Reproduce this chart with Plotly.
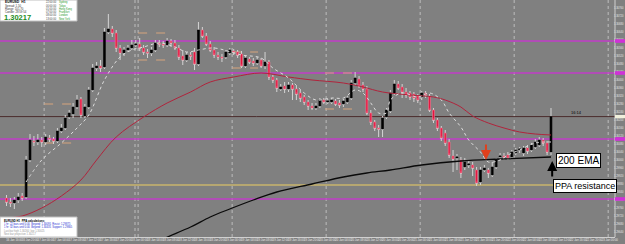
import plotly.graph_objects as go
import pandas as pd

# ---------------- data (EURUSD H1) ----------------
open_ = [1.29810,1.29790,1.29785,1.29800,1.29820,1.29815,1.30000,1.30095,1.30090,1.30100,
         1.30090,1.30110,1.30105,1.30095,1.30145,1.30160,1.30215,1.30230,1.30265,1.30305,
         1.30220,1.30265,1.30350,1.30460,1.30470,1.30465,1.30640,1.30655,1.30635,1.30560,
         1.30535,1.30550,1.30560,1.30575,1.30580,1.30560,1.30540,1.30535,1.30550,1.30585,
         1.30580,1.30575,1.30595,1.30585,1.30560,1.30520,1.30500,1.30525,1.30540,1.30480,
         1.30650,1.30620,1.30580,1.30550,1.30525,1.30515,1.30515,1.30535,1.30545,1.30540,
         1.30530,1.30470,1.30505,1.30495,1.30485,1.30500,1.30470,1.30490,1.30415,1.30400,
         1.30355,1.30370,1.30355,1.30375,1.30355,1.30335,1.30315,1.30290,1.30270,1.30260,
         1.30270,1.30300,1.30290,1.30290,1.30295,1.30285,1.30280,1.30290,1.30310,1.30385,
         1.30405,1.30375,1.30355,1.30235,1.30190,1.30160,1.30155,1.30215,1.30245,1.30335,
         1.30380,1.30365,1.30340,1.30335,1.30330,1.30320,1.30315,1.30335,1.30320,1.30250,
         1.30200,1.30160,1.30135,1.30090,1.30020,1.30010,1.30000,1.29965,1.29975,1.29975,
         1.29950,1.29890,1.29950,1.29950,1.29925,1.29965,1.30015,1.30020,1.30025,1.30015,
         1.30035,1.30050,1.30035,1.30060,1.30050,1.30065,1.30075,1.30100,1.30085,1.30040]
high = [1.29825,1.29810,1.29815,1.29835,1.29835,1.30020,1.30130,1.30120,1.30130,1.30115,
        1.30130,1.30125,1.30115,1.30160,1.30180,1.30225,1.30250,1.30285,1.30325,1.30315,
        1.30280,1.30365,1.30480,1.30490,1.30500,1.30660,1.30730,1.30670,1.30650,1.30575,
        1.30565,1.30575,1.30600,1.30600,1.30610,1.30575,1.30555,1.30565,1.30600,1.30600,
        1.30595,1.30610,1.30605,1.30600,1.30575,1.30550,1.30540,1.30540,1.30560,1.30690,
        1.30665,1.30635,1.30595,1.30565,1.30540,1.30530,1.30550,1.30560,1.30555,1.30550,
        1.30545,1.30520,1.30515,1.30510,1.30515,1.30510,1.30540,1.30500,1.30425,1.30410,
        1.30380,1.30390,1.30390,1.30385,1.30370,1.30350,1.30325,1.30300,1.30285,1.30285,
        1.30310,1.30310,1.30305,1.30310,1.30305,1.30300,1.30305,1.30320,1.30400,1.30440,
        1.30420,1.30390,1.30370,1.30250,1.30200,1.30175,1.30220,1.30260,1.30350,1.30400,
        1.30395,1.30380,1.30360,1.30345,1.30340,1.30330,1.30345,1.30345,1.30330,1.30260,
        1.30210,1.30170,1.30150,1.30105,1.30050,1.30030,1.30015,1.30010,1.29995,1.29990,
        1.29965,1.29965,1.29975,1.29960,1.29990,1.30010,1.30035,1.30035,1.30040,1.30050,
        1.30060,1.30065,1.30070,1.30075,1.30085,1.30105,1.30115,1.30110,1.30095,1.30260]
low = [1.29770,1.29765,1.29755,1.29785,1.29795,1.29805,1.29990,1.30070,1.30075,1.30065,
       1.30075,1.30090,1.30080,1.30085,1.30135,1.30150,1.30205,1.30210,1.30255,1.30210,
       1.30210,1.30255,1.30340,1.30445,1.30440,1.30455,1.30630,1.30615,1.30540,1.30500,
       1.30520,1.30540,1.30550,1.30565,1.30545,1.30525,1.30510,1.30520,1.30540,1.30565,
       1.30560,1.30565,1.30565,1.30550,1.30500,1.30475,1.30490,1.30500,1.30450,1.30470,
       1.30610,1.30570,1.30540,1.30510,1.30500,1.30490,1.30505,1.30525,1.30525,1.30510,
       1.30460,1.30460,1.30480,1.30470,1.30475,1.30460,1.30455,1.30400,1.30385,1.30340,
       1.30345,1.30335,1.30340,1.30300,1.30300,1.30290,1.30275,1.30250,1.30250,1.30250,
       1.30260,1.30280,1.30280,1.30280,1.30270,1.30260,1.30265,1.30280,1.30300,1.30375,
       1.30360,1.30340,1.30225,1.30175,1.30145,1.30115,1.30115,1.30205,1.30235,1.30325,
       1.30350,1.30310,1.30310,1.30300,1.30290,1.30285,1.30300,1.30310,1.30240,1.30185,
       1.30145,1.30095,1.30070,1.30010,1.29940,1.29950,1.29910,1.29950,1.29960,1.29920,
       1.29870,1.29875,1.29940,1.29910,1.29915,1.29955,1.30000,1.30000,1.30000,1.30005,
       1.30025,1.30035,1.30020,1.30030,1.30040,1.30055,1.30065,1.30070,1.30025,1.30025]
close = [1.29790,1.29785,1.29800,1.29815,1.29810,1.30000,1.30100,1.30090,1.30100,1.30090,
         1.30115,1.30105,1.30095,1.30145,1.30160,1.30210,1.30235,1.30265,1.30300,1.30225,
         1.30265,1.30350,1.30460,1.30470,1.30460,1.30640,1.30655,1.30635,1.30560,1.30535,
         1.30550,1.30560,1.30575,1.30580,1.30560,1.30540,1.30535,1.30550,1.30585,1.30580,
         1.30575,1.30595,1.30585,1.30560,1.30515,1.30500,1.30525,1.30520,1.30480,1.30650,
         1.30620,1.30580,1.30550,1.30525,1.30515,1.30510,1.30540,1.30550,1.30540,1.30525,
         1.30470,1.30510,1.30490,1.30485,1.30500,1.30470,1.30490,1.30415,1.30400,1.30360,
         1.30365,1.30355,1.30375,1.30355,1.30330,1.30310,1.30290,1.30270,1.30260,1.30270,
         1.30300,1.30290,1.30295,1.30300,1.30280,1.30275,1.30295,1.30310,1.30385,1.30410,
         1.30370,1.30355,1.30235,1.30190,1.30160,1.30155,1.30210,1.30250,1.30335,1.30380,
         1.30360,1.30340,1.30325,1.30315,1.30310,1.30300,1.30335,1.30325,1.30250,1.30200,
         1.30160,1.30110,1.30085,1.30025,1.30005,1.30015,1.29935,1.29990,1.29980,1.29960,
         1.29885,1.29950,1.29960,1.29935,1.29965,1.30000,1.30020,1.30015,1.30010,1.30040,
         1.30050,1.30055,1.30060,1.30045,1.30075,1.30090,1.30100,1.30085,1.30040,1.30217]

ema50_idx = [0,4,9,14,19,23,28,35,41,47,52,58,65,72,78,86,91,96,103,109,112,116,119,123,127,131,135,139]
ema50 = [1.29710,1.29720,1.29760,1.29820,1.29900,1.30000,1.30115,1.30215,1.30285,1.30340,1.30390,
         1.30415,1.30435,1.30415,1.30400,1.30385,1.30365,1.30340,1.30325,1.30315,1.30300,1.30265,
         1.30220,1.30185,1.30160,1.30140,1.30130,1.30125]
ema200_idx = [37,40,47,52,57,63,69,78,86,92,98,106,116,126,139]
ema200 = [1.29575,1.29605,1.29665,1.29715,1.29755,1.29800,1.29840,1.29880,1.29915,1.29935,
          1.29950,1.29975,1.29995,1.30005,1.30015]
emafast_idx = [5,9,14,18,21,25,29,32,35,39,43,46,49,53,60,65,68,72,76,79,83,86,89,91,93,
               95,97,98,101,105,108,111,113,116,118,121,123,126,128,131,135,139]
emafast = [1.29890,1.30000,1.30085,1.30160,1.30225,1.30400,1.30515,1.30550,1.30565,1.30585,
           1.30565,1.30540,1.30550,1.30560,1.30525,1.30510,1.30460,1.30410,1.30335,1.30300,
           1.30310,1.30310,1.30350,1.30335,1.30285,1.30235,1.30235,1.30300,1.30335,1.30315,
           1.30335,1.30300,1.30235,1.30165,1.30100,1.30040,1.29990,1.30000,1.30025,1.30050,
           1.30085,1.30090]

magenta_levels = [1.30595, 1.30435, 1.30105, 1.29805]
price_level = 1.30217
ppa_level = 1.29875
separators = [9.6, 32.8, 33.6, 57.6, 81.6, 105.6, 129.6, 153.6]
zone_x0 = [9.6, 33.6, 57.6, 81.3]
zone_x1 = [16.7, 40.5, 64.2, 88.5]
zone_top = [1.30280, 1.30635, 1.30540, 1.30435]
zone_bot = [1.30085, 1.30500, 1.30460, 1.30255]

times = pd.date_range("2013-01-16 14:00", periods=len(close), freq="h")
tick_idx = list(range(2, 156, 4))
tick_labels = [(times[0] + pd.Timedelta(hours=i)).strftime("%-d %b %H:%M") for i in tick_idx]

idx = list(range(len(close)))
body_lo = [min(o, c) for o, c in zip(open_, close)]
body_hi = [max(o, c) for o, c in zip(open_, close)]
bull = [c >= o for o, c in zip(open_, close)]

W, H = 615.0, 237.0
def px(x): return x / W
def py(y): return 1 - y / H

fig = go.Figure()

# wicks
fig.add_trace(go.Candlestick(
    x=idx, open=body_lo, close=body_lo, high=high, low=low,
    increasing=dict(line=dict(color="#d4d4d4", width=1), fillcolor="#d4d4d4"),
    decreasing=dict(line=dict(color="#d4d4d4", width=1), fillcolor="#d4d4d4"),
    whiskerwidth=0, hoverinfo="skip"))
# bodies (bull)
fig.add_trace(go.Candlestick(
    x=[i for i in idx if bull[i]],
    open=[open_[i] for i in idx if bull[i]], close=[close[i] for i in idx if bull[i]],
    high=[body_hi[i] for i in idx if bull[i]], low=[body_lo[i] for i in idx if bull[i]],
    increasing=dict(line=dict(color="#000000", width=0.6), fillcolor="#000000"),
    decreasing=dict(line=dict(color="#000000", width=0.6), fillcolor="#000000"),
    whiskerwidth=0, hoverinfo="skip"))
# bodies (bear)
fig.add_trace(go.Candlestick(
    x=[i for i in idx if not bull[i]],
    open=[open_[i] for i in idx if not bull[i]], close=[close[i] for i in idx if not bull[i]],
    high=[body_hi[i] for i in idx if not bull[i]], low=[body_lo[i] for i in idx if not bull[i]],
    increasing=dict(line=dict(color="#f07890", width=0.6), fillcolor="#e8103c"),
    decreasing=dict(line=dict(color="#f07890", width=0.6), fillcolor="#e8103c"),
    whiskerwidth=0, hoverinfo="skip"))

fig.add_trace(go.Scatter(x=ema50_idx, y=ema50, mode="lines",
                         line=dict(color="#b0243c", width=1, shape="spline")))
fig.add_trace(go.Scatter(x=ema200_idx, y=ema200, mode="lines",
                         line=dict(color="#0a0a0a", width=1.3, shape="spline")))
fig.add_trace(go.Scatter(x=emafast_idx, y=emafast, mode="lines",
                         line=dict(color="#dcdcdc", width=1, dash="dot", shape="spline")))

shapes = []
for s in separators:
    shapes.append(dict(type="line", xref="x", yref="paper", x0=s, x1=s, y0=0, y1=1,
                       line=dict(color="#bdbdbd", width=1, dash="dot"), layer="below"))
for lv in magenta_levels:
    shapes.append(dict(type="line", xref="paper", yref="y", x0=0, x1=1, y0=lv, y1=lv,
                       line=dict(color="#c23cc8", width=1.5), layer="below"))
shapes.append(dict(type="line", xref="paper", yref="y", x0=0, x1=1, y0=price_level, y1=price_level,
                   line=dict(color="#4a2c2c", width=1), layer="below"))
shapes.append(dict(type="line", xref="paper", yref="y", x0=0, x1=1, y0=ppa_level, y1=ppa_level,
                   line=dict(color="#c8b46c", width=1.3), layer="below"))
for x0, x1, t, b in zip(zone_x0, zone_x1, zone_top, zone_bot):
    for lv in (t, b):
        shapes.append(dict(type="line", xref="x", yref="y", x0=x0, x1=x1, y0=lv, y1=lv,
                           line=dict(color="#d6a47c", width=1, dash="dash"), layer="below"))
# info boxes
shapes.append(dict(type="rect", xref="paper", yref="paper", x0=px(0), x1=px(77), y0=py(0), y1=py(21),
                   fillcolor="#ffffff", line=dict(color="#c0c0c0", width=1)))
shapes.append(dict(type="rect", xref="paper", yref="paper", x0=px(0), x1=px(77), y0=py(217), y1=py(237),
                   fillcolor="#ffffff", line=dict(color="#c0c0c0", width=1)))
# right axis strip line
shapes.append(dict(type="line", xref="paper", yref="paper", x0=1, x1=1, y0=0, y1=1,
                   line=dict(color="#d0d0d0", width=1)))
# level markers on the price axis
for lv in magenta_levels:
    shapes.append(dict(type="rect", xref="paper", yref="y", x0=1.0, x1=1.017,
                       y0=lv - 0.00009, y1=lv + 0.00009, fillcolor="#d030d8",
                       line=dict(width=0)))
shapes.append(dict(type="rect", xref="paper", yref="y", x0=1.0, x1=1.017,
                   y0=price_level - 0.00008, y1=price_level + 0.00008, fillcolor="#f0f0dc",
                   line=dict(width=0)))

ann = []
F = "Liberation Sans, Arial, sans-serif"
def txt(x, y, s, size, color, bold=False, xanchor="left"):
    ann.append(dict(xref="paper", yref="paper", x=px(x), y=py(y), text=("<b>%s</b>" % s) if bold else s,
                    showarrow=False, xanchor=xanchor, yanchor="middle",
                    font=dict(size=size, color=color, family=F)))

txt(3, 2.3, "EURUSD  H1", 3.4, "#000000", True)
txt(3, 5.6, "Spread: 1.50", 2.8, "#333333")
txt(3, 8.6, "Range: 101.70", 2.8, "#333333")
txt(3, 11.6, "Candle: 28:59:54", 2.8, "#333333")
txt(2, 17.0, "1.30217", 7.5, "#1c8c1c", True)
sessions = ["Sydney", "Tokyo", "Hong Kong", "Frankfurt", "London", "New York"]
stimes = ["22:00:00", "00:00:00", "01:00:00", "07:00:00", "08:00:00", "13:00:00"]
for k, (s, t) in enumerate(zip(sessions, stimes)):
    txt(44, 2.5 + k * 3.2, t, 2.6, "#444444")
    txt(57, 2.5 + k * 3.2, s, 2.6, "#2a9a2a")

txt(2, 220.5, "EURUSD H1  PPA calculations:", 2.8, "#000000", True)
txt(2, 224, "1 hr: 22 bars until 0.00  Beyond: 1.30095  Resist: 1.29875", 2.6, "#1a2ad0")
txt(2, 227.3, "1 hr: 32 bars until 0.00  Beyond: 1.30435  Support: 1.29805", 2.6, "#1a2ad0")
txt(2, 230.6, "Last bar high 1.30260  low 1.30025", 2.6, "#9a9a9a")
txt(2, 233.9, "Next bar projection 1.30217", 2.6, "#9a9a9a")

ann.append(dict(xref="x", yref="y", x=143.5, y=price_level, text="16:14", showarrow=False,
                xanchor="left", yanchor="bottom", font=dict(size=4, color="#000000", family=F)))

# callouts
ann.append(dict(xref="paper", yref="paper", x=px(578), y=py(160), text="200 EMA", showarrow=False,
                xanchor="center", yanchor="middle", bgcolor="#ffffff", bordercolor="#000000",
                borderwidth=1, borderpad=1, font=dict(size=10, color="#000000", family=F)))
ann.append(dict(xref="paper", yref="paper", x=px(585), y=py(186), text="PPA resistance", showarrow=False,
                xanchor="center", yanchor="middle", bgcolor="#ffffff", bordercolor="#000000",
                borderwidth=1, borderpad=1, font=dict(size=9, color="#000000", family=F)))
# arrows
ann.append(dict(xref="x", yref="y", x=139.3, y=1.29995, ax=0, ay=17, text="", showarrow=True,
                arrowhead=2, arrowsize=1, arrowwidth=2, arrowcolor="#000000"))
ann.append(dict(xref="x", yref="y", x=122.4, y=1.30000, ax=0, ay=-17, text="", showarrow=True,
                arrowhead=2, arrowsize=1, arrowwidth=2, arrowcolor="#e0401c"))

fig.update_layout(
    width=625, height=244, margin=dict(l=0, r=10, t=0, b=7),
    paper_bgcolor="#808080", plot_bgcolor="#808080", showlegend=False,
    shapes=shapes, annotations=ann,
    xaxis=dict(range=[-1.66, 155.34], showgrid=False, zeroline=False, rangeslider=dict(visible=False),
               tickmode="array", tickvals=tick_idx, ticktext=tick_labels, ticks="", tickangle=0,
               tickfont=dict(size=2.8, color="#e8e8e8", family=F), automargin=False,
               ticklabelstandoff=0, showline=True, linecolor="#d0d0d0"),
    yaxis=dict(range=[1.29615, 1.3080], side="right", showgrid=False, zeroline=False,
               dtick=0.0004, tick0=1.3, tickformat=".5f", ticks="",
               tickfont=dict(size=2.6, color="#e8e8e8", family=F), ticklabelstandoff=-2,
               automargin=False),
)
fig.write_html("out.html")
